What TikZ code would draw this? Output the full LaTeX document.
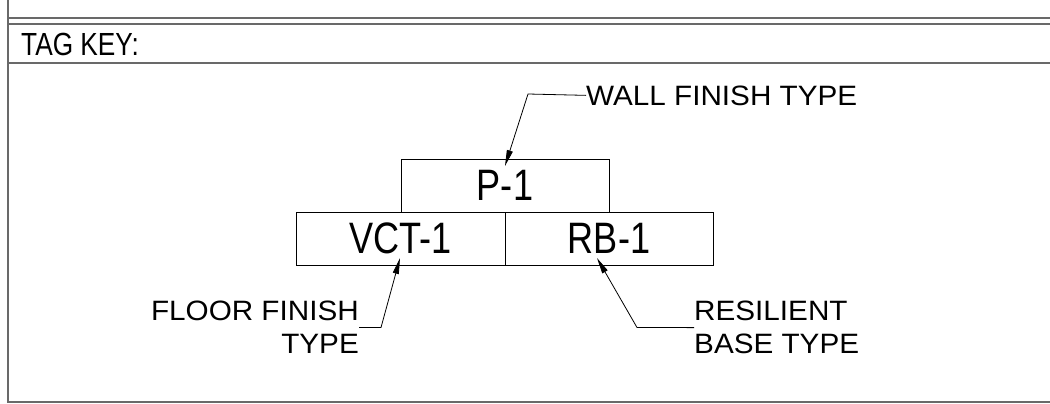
\documentclass[tikz,border=0pt]{standalone}
\usepackage{fontspec}
\setmainfont{Liberation Sans}
\newfontfamily\tagfont[FakeStretch=0.82]{Liberation Sans}
\newfontfamily\labelfont[FakeStretch=1.06]{Liberation Sans}
\usetikzlibrary{arrows.meta}
\definecolor{framegray}{RGB}{105,105,105}

\begin{document}
\begin{tikzpicture}[x=1pt,y=-1pt,
  frameline/.style={draw=framegray,line width=1.4pt},
  tagbox/.style={draw,line width=1pt,inner sep=0pt,minimum height=53pt,
    font=\tagfont\fontsize{44}{44}\selectfont},
  tagtext/.style={inner sep=0pt,font=\labelfont\fontsize{28}{33}\selectfont},
  leader/.style={line width=0.8pt,-{Triangle[length=16pt,width=6pt]}}]
\useasboundingbox (0,0) rectangle (1050,404);
% frame
\draw[frameline] (8,0) -- (8,402) -- (1050,402);
\draw[frameline] (8,18) -- (1050,18);
\draw[frameline] (8,24) -- (1050,24);
\draw[frameline] (8,63) -- (1050,63);
\node[inner sep=0pt,anchor=base west,font=\tagfont\fontsize{32}{32}\selectfont]
  (tagkey) at (21,56) {TAG KEY:};

% tag boxes
\node[tagbox,minimum width=208pt] (p1) at (505,185.5) {P-1};
\node[tagbox,minimum width=209pt] (vct) at (400.5,238.5) {VCT-1};
\node[tagbox,minimum width=208pt] (rb) at (609,238.5) {RB-1};

% labels
\node[tagtext,anchor=base west] (wall) at (586,105) {WALL FINISH TYPE};
\node[tagtext,anchor=north east,align=right] (floor) at (359,301) {FLOOR FINISH\\TYPE};
\node[tagtext,anchor=north west,align=left] (resil) at (694,301) {RESILIENT\\BASE TYPE};

\coordinate (wallbend) at (528,94);
\coordinate (walltip) at (505,166);
\coordinate (floorbend) at (381,327.5);
\coordinate (floortip) at (400,258);
\coordinate (resilbend) at (637,327.5);
\coordinate (resiltip) at (597,258);

% leaders
\draw[leader] (wall.west) -- (wallbend) -- (walltip);
\draw[leader] (floor.east) -- (floorbend) -- (floortip);
\draw[leader] (resil.west) -- (resilbend) -- (resiltip);
\end{tikzpicture}
\end{document}
